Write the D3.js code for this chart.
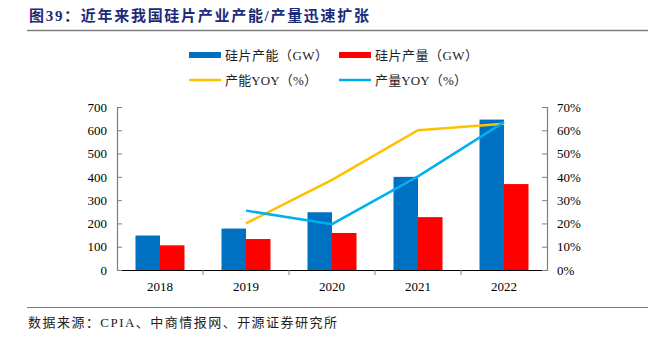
<!DOCTYPE html>
<html>
<head>
<meta charset="utf-8">
<script src="https://cdn.jsdelivr.net/npm/d3@7"></script>
<style>
  body { margin: 0; background: #fff; }
  text { font-family: "Liberation Serif", "Noto Sans CJK SC", serif; }
</style>
</head>
<body>
<script>
var svgWidth = 648;
var svgHeight = 341;

// data
var years = ["2018", "2019", "2020", "2021", "2022"];
var capacity = [148, 178, 248, 400, 646];      // 硅片产能 GW
var output = [106, 133, 159, 227, 369];        // 硅片产量 GW
var capacityYoy = [null, 20, 38.7, 60, 62.8];  // 产能YOY %
var outputYoy = [null, 25.5, 19.7, 40.2, 63.5]; // 产量YOY %
var leftTicks = [0, 100, 200, 300, 400, 500, 600, 700];
var rightTicks = [0, 10, 20, 30, 40, 50, 60, 70];

var margin = { top: 107, right: 101, bottom: 71, left: 117 };
var width = svgWidth - margin.left - margin.right;
var height = svgHeight - margin.top - margin.bottom;

var svg = d3.select("body")
  .append("svg")
  .attr("width", svgWidth)
  .attr("height", svgHeight);

// title
svg.append("text")
  .attr("x", 29)
  .attr("y", 21)
  .attr("font-size", "15px")
  .attr("font-weight", "bold")
  .attr("fill", "#1c2a78")
  .attr("textLength", 340)
  .attr("lengthAdjust", "spacing")
  .text("图39：近年来我国硅片产业产能/产量迅速扩张");

svg.append("line")
  .attr("x1", 27).attr("x2", 648)
  .attr("y1", 30.5).attr("y2", 30.5)
  .attr("stroke", "#7f7f7f")
  .attr("stroke-width", 1.5);

// footer
svg.append("line")
  .attr("x1", 27).attr("x2", 648)
  .attr("y1", 307.5).attr("y2", 307.5)
  .attr("stroke", "#7f7f7f")
  .attr("stroke-width", 1);

svg.append("text")
  .attr("x", 28)
  .attr("y", 327)
  .attr("font-size", "13px")
  .attr("fill", "#222")
  .attr("textLength", 309)
  .attr("lengthAdjust", "spacing")
  .text("数据来源：CPIA、中商情报网、开源证券研究所");

var chartGroup = svg.append("g")
  .attr("transform", `translate(${margin.left}, ${margin.top})`);

var x0 = d3.scaleBand().domain(years).range([0, width]);
var barW = 24.5;

var yLeft = d3.scaleLinear().domain([0, 700]).range([height, 0]);
var yRight = d3.scaleLinear().domain([0, 70]).range([height, 0]);

// bars
chartGroup.selectAll(".bar-cap")
  .data(years)
  .enter()
  .append("rect")
  .attr("x", (d, i) => x0(d) + x0.bandwidth() / 2 - barW)
  .attr("y", (d, i) => yLeft(capacity[i]))
  .attr("width", barW)
  .attr("height", (d, i) => height - yLeft(capacity[i]))
  .attr("fill", "#0070c0");

chartGroup.selectAll(".bar-out")
  .data(years)
  .enter()
  .append("rect")
  .attr("x", (d, i) => x0(d) + x0.bandwidth() / 2)
  .attr("y", (d, i) => yLeft(output[i]))
  .attr("width", barW)
  .attr("height", (d, i) => height - yLeft(output[i]))
  .attr("fill", "#ff0000");

// lines
var cx = d => x0(d) + x0.bandwidth() / 2;

function drawLine(vals, color) {
  var pts = years.map((d, i) => [cx(d), vals[i]]).filter(p => p[1] != null);
  var line = d3.line()
    .x(p => p[0])
    .y(p => yRight(p[1]));
  chartGroup.append("path")
    .datum(pts)
    .attr("d", line)
    .attr("fill", "none")
    .attr("stroke", color)
    .attr("stroke-width", 2.5);
}
drawLine(capacityYoy, "#ffc000");
drawLine(outputYoy, "#00b0f0");

// axes
var bottomAxis = d3.axisBottom(x0).tickSize(0).tickPadding(12);
var leftAxis = d3.axisLeft(yLeft).tickValues(leftTicks).tickSize(-5).tickPadding(10);
var rightAxis = d3.axisRight(yRight).tickValues(rightTicks)
  .tickSize(-5).tickPadding(10).tickFormat(d => d + "%");

var xAxis = chartGroup.append("g")
  .attr("transform", `translate(0, ${height})`)
  .call(bottomAxis);
// ticks between categories
xAxis.selectAll(".sep")
  .data(years.slice(1))
  .enter()
  .append("line")
  .attr("x1", d => x0(d)).attr("x2", d => x0(d))
  .attr("y1", 0).attr("y2", 5)
  .attr("stroke", "#7f7f7f");

var yAxisL = chartGroup.append("g").call(leftAxis);
var yAxisR = chartGroup.append("g")
  .attr("transform", `translate(${width}, 0)`)
  .call(rightAxis);

[xAxis, yAxisL, yAxisR].forEach(function(a) {
  a.select(".domain").attr("stroke", "#7f7f7f").attr("stroke-width", 1.2);
  a.selectAll(".tick line").attr("stroke", "#7f7f7f");
  a.selectAll("text")
    .attr("font-size", "13px")
    .attr("fill", "#000")
    .attr("font-family", "Liberation Serif, serif");
});
xAxis.select(".domain").attr("stroke", "#000");
yAxisR.selectAll("text").attr("text-anchor", "start");
yAxisL.selectAll(".tick line").attr("x2", 5);
yAxisR.selectAll(".tick line").attr("x2", -5);

// legend
var legend = svg.append("g");
var items = [
  { label: "硅片产能（GW）", color: "#0070c0", type: "rect", x: 189, y: 55, tx: 225, len: 103 },
  { label: "硅片产量（GW）", color: "#ff0000", type: "rect", x: 339, y: 55, tx: 375, len: 103 },
  { label: "产能YOY（%）", color: "#ffc000", type: "line", x: 189, y: 80, tx: 225, len: 92 },
  { label: "产量YOY（%）", color: "#00b0f0", type: "line", x: 339, y: 80, tx: 375, len: 92 }
];
items.forEach(function(it) {
  if (it.type === "rect") {
    legend.append("rect")
      .attr("x", it.x).attr("y", it.y - 3)
      .attr("width", 32).attr("height", 6)
      .attr("fill", it.color);
  } else {
    legend.append("line")
      .attr("x1", it.x).attr("x2", it.x + 32)
      .attr("y1", it.y).attr("y2", it.y)
      .attr("stroke", it.color)
      .attr("stroke-width", 2.5);
  }
  legend.append("text")
    .attr("x", it.tx)
    .attr("y", it.y + 4.5)
    .attr("font-size", "13px")
    .attr("fill", "#222")
    .attr("textLength", it.len)
    .attr("lengthAdjust", "spacing")
    .text(it.label);
});
</script>
</body>
</html>
